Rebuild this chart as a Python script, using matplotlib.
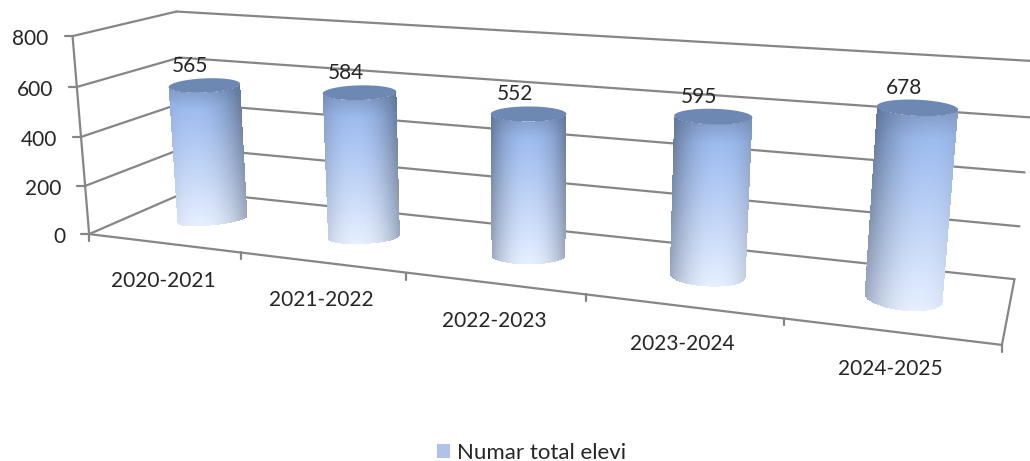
import numpy as np
import matplotlib
matplotlib.use("Agg")
import matplotlib.pyplot as plt
from matplotlib.patches import Patch, Polygon

categories = ["2020-2021", "2021-2022", "2022-2023", "2023-2024", "2024-2025"]
values = [565, 584, 552, 595, 678]
y_ticks = [0, 200, 400, 600, 800]
series_name = "Numar total elevi"

GRID = "#868686"
TEXT = "#262626"
plt.rcParams["font.family"] = ["Lato", "DejaVu Sans"]
FS = 15

# box corners as seen in the picture: (category pos, depth, value) -> pixel
corners = [
    ((0, 0, 0), (90, 234)),
    ((0, 0, 800), (72, 35)),
    ((0, 1, 0), (187, 192)),
    ((0, 1, 800), (177, 11)),
    ((5, 1, 0), (1015, 277)),
    ((5, 1, 800), (1035, 63)),
    ((5, 0, 0), (1003, 345)),
    ((1, 0, 0), (242, 253)),
    ((2, 0, 0), (405, 273)),
    ((3, 0, 0), (585, 295)),
    ((4, 0, 0), (783, 318)),
]


def fit_camera(pairs):
    rows, rhs = [], []
    for (u, v, w), (x, y) in pairs:
        w = w / 800
        rows.append([u, v, w, 1, 0, 0, 0, 0, -x * u, -x * v, -x * w])
        rhs.append(x)
        rows.append([0, 0, 0, 0, u, v, w, 1, -y * u, -y * v, -y * w])
        rhs.append(y)
    m = np.linalg.lstsq(np.array(rows, float), np.array(rhs, float), rcond=None)[0]
    return np.append(m, 1).reshape(3, 4)


CAM = fit_camera(corners)


def proj(u, v, w):
    p = CAM @ np.array([u, v, w / 800, 1.0])
    return p[:2] / p[2]


def seg(ax, a, b, z=1, lw=1.6):
    ax.plot([a[0], b[0]], [a[1], b[1]], color=GRID, lw=lw, zorder=z, solid_capstyle="round")


def hexrgb(s):
    return np.array(matplotlib.colors.to_rgb(s))


def ring(i, val, w, thetas):
    # one horizontal circle of the cylinder, in pixels
    uc = i + 0.5
    r_u = 0.24 - 0.0125 * i
    c = proj(uc, 0.5, w)
    rx = (proj(uc + r_u, 0.5, w)[0] - proj(uc - r_u, 0.5, w)[0]) / 2
    f = w / val
    ry = rx * (0.2 * f + (0.16 + 0.04 * i) * (1 - f))
    tilt = (0.045 * f + 0.1 * (1 - f)) * (i - 2) / 2
    return c[0] + rx * np.cos(thetas), c[1] + ry * np.sin(thetas) + tilt * rx * np.cos(thetas)


def draw_cylinder(ax, i, val):
    n_t, n_w = 90, 180
    thetas = np.linspace(np.pi, 0, n_t + 1)
    ws = np.linspace(val, 0, n_w + 1)
    hi = -0.36 + 0.18 * i
    X = np.zeros((n_w + 1, n_t + 1))
    Y = np.zeros((n_w + 1, n_t + 1))
    for r, w in enumerate(ws):
        X[r], Y[r] = ring(i, val, w, thetas)

    t = ((np.arange(n_w) + 0.5) / n_w)[:, None, None]
    s = np.cos((thetas[:-1] + thetas[1:]) / 2)[None, :, None]
    d = np.clip(np.abs(s - hi) / (1 + abs(hi)), 0, 1) ** 2.2
    light_top, light_bot = hexrgb("#9DBBEF"), hexrgb("#E6EFFF")
    dark_top, dark_bot = hexrgb("#5F7599"), hexrgb("#9AA8BF")
    fade = np.clip(t / 0.12, 0, 1)
    light = light_top * (0.86 + 0.14 * fade)
    k = np.clip(t - 0.12, 0, 1) / 0.88
    light = light + (light_bot - light) * k
    dark = dark_top + (dark_bot - dark_top) * t
    C = light + (dark - light) * d
    ax.pcolormesh(X, Y, C, shading="flat", antialiased=False, edgecolor="none", zorder=3)

    # top cap
    a = np.linspace(0, 2 * np.pi, 90)
    cx, cy = ring(i, val, val, a)
    ax.add_patch(Polygon(np.c_[cx, cy], closed=True, fc="#6E88B4", ec="none", zorder=4))
    c = proj(i + 0.5, 0.5, val)
    ax.text(c[0] - 14, c[1] - 20, str(val), ha="center", va="center",
            fontsize=FS, color=TEXT, zorder=5)


fig = plt.figure(figsize=(10.30, 4.61), dpi=100)
ax = fig.add_axes([0, 0, 1, 1])
ax.set_xlim(0, 1030)
ax.set_ylim(461, 0)
ax.axis("off")

# walls
for w in y_ticks:
    seg(ax, proj(0, 0, w), proj(0, 1, w))
    seg(ax, proj(0, 1, w), proj(5, 1, w))
    a = proj(0, 0, w)
    seg(ax, a, (a[0] - 8, a[1]))
    ax.text(a[0] - 24, a[1] + 3, str(w), ha="right", va="center", fontsize=FS, color=TEXT)
seg(ax, proj(0, 0, 0), proj(0, 0, 800))

# floor
seg(ax, proj(0, 0, 0), proj(5, 0, 0))
seg(ax, proj(5, 0, 0), proj(5, 1, 0))
for u in range(len(categories) + 1):
    a = proj(u, 0, 0)
    seg(ax, a, (a[0], a[1] + 7))
for i, name in enumerate(categories):
    a = proj(i + 0.5, 0, 0)
    ax.text(a[0], a[1] + 38, name, ha="center", va="center", fontsize=FS, color=TEXT)

for i, val in enumerate(values):
    draw_cylinder(ax, i, val)

ax.legend(handles=[Patch(fc="#AFC2EA", ec="none", label=series_name)], loc="center",
          bbox_to_anchor=(532 / 1030, 1 - 453 / 461), frameon=False, fontsize=16,
          labelcolor=TEXT, handlelength=0.58, handleheight=0.58, handletextpad=0.32)

fig.savefig("out.png", dpi=100)
